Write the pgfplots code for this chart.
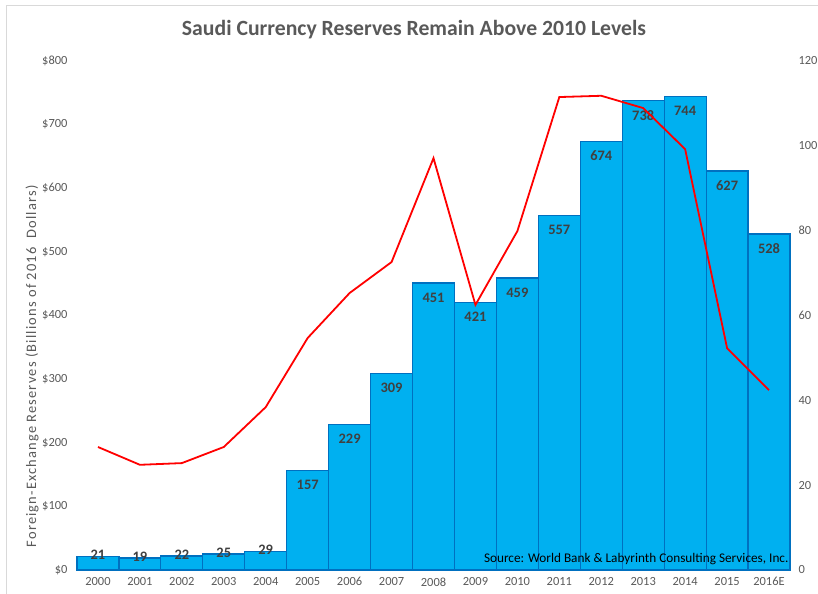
\documentclass[border=0pt]{standalone}
\usepackage{pgfplots}
\pgfplotsset{compat=1.18}
\usepackage{fontspec}
\setmainfont{Carlito}
\newfontfamily\widefont[LetterSpace=8]{Carlito}

\definecolor{barfill}{HTML}{00B0F0}
\definecolor{baredge}{HTML}{0070C0}
\definecolor{txtgray}{HTML}{595959}
\definecolor{lblgray}{HTML}{404040}
\definecolor{frame}{HTML}{D9D9D9}

% reserves, billions of 2016 dollars
\pgfplotstableread{
x y
0 21
1 19
2 22
3 25
4 29
}\smallbars
\pgfplotstableread{
x y
5 157
6 229
7 309
8 451
9 421
10 459
11 557
12 674
13 738
14 744
15 627
16 528
}\bigbars
% red line, right axis
\pgfplotstableread{
x y
0 29.0
1 24.8
2 25.2
3 29.0
4 38.4
5 54.7
6 65.3
7 72.6
8 97.1
9 62.5
10 79.9
11 111.5
12 111.8
13 108.9
14 99.2
15 52.3
16 42.4
}\lineseries

\begin{document}
\begin{tikzpicture}[x=1bp,y=1bp]
\useasboundingbox (-77bp,-24bp) rectangle (741bp,570bp);
\draw[frame,line width=0.8bp] (-71bp,-24bp) -- (-71bp,565bp) -- (741bp,565bp);

\begin{axis}[
  at={(0,0)}, anchor=south west,
  scale only axis, width=713bp, height=509bp,
  xmin=-0.5, xmax=16.5, ymin=0, ymax=800,
  ybar, bar width=1, bar shift=0pt,
  axis y line*=left, axis x line*=bottom,
  y axis line style={draw=none},
  x axis line style={frame, line width=0.8bp},
  major tick length=0pt,
  xtick={0,...,16},
  xticklabels={2000,2001,2002,2003,2004,2005,2006,2007,2008,2009,2010,2011,2012,2013,2014,2015,2016E},
  ytick={0,100,...,800},
  yticklabels={\$0,\$100,\$200,\$300,\$400,\$500,\$600,\$700,\$800},
  tick label style={font=\fontsize{12.5}{14}\selectfont, text=txtgray},
  xticklabel style={yshift=-4bp},
  yticklabel style={xshift=-6bp},
  ylabel={Foreign-Exchange Reserves (Billions of 2016\ \ Dollars)},
  ylabel style={font=\widefont\fontsize{14.5}{16}\selectfont, text=txtgray,
    at={(axis description cs:-0.0631,0.40)}, anchor=center},
  /pgf/number format/assume math mode=true,
  nodes near coords,
  every node near coord/.append style={font=\bfseries\fontsize{14.5}{16}\selectfont, text=lblgray},
  clip=false,
]
\addplot[fill=barfill, draw=baredge, line width=1.2bp,
  every node near coord/.append style={anchor=center, yshift=1.5bp}]
  table[x=x,y=y] {\smallbars};
\addplot[fill=barfill, draw=baredge, line width=1.2bp,
  every node near coord/.append style={anchor=north, yshift=-6bp}]
  table[x=x,y=y] {\bigbars};
\node[anchor=base east, font=\fontsize{13.3}{15}\selectfont, text=black]
  at ([xshift=2bp,yshift=8bp]rel axis cs:1,0) {Source: World Bank \& Labyrinth Consulting Services, Inc.};
\end{axis}

\begin{axis}[
  at={(0,0)}, anchor=south west,
  scale only axis, width=713bp, height=509bp,
  xmin=-0.5, xmax=16.5, ymin=0, ymax=120,
  axis y line*=right, hide x axis,
  y axis line style={draw=none},
  major tick length=0pt,
  ytick={0,20,...,120},
  yticklabels={0,20,40,60,80,100,120},
  tick label style={font=\fontsize{12.5}{14}\selectfont, text=txtgray},
  yticklabel style={xshift=5bp},
  clip=false,
]
\addplot[red, line width=1.8bp, mark=none] table[x=x,y=y] {\lineseries};
\end{axis}

\node[font=\bfseries\fontsize{21.8}{26}\selectfont, text=txtgray] at (337bp,540bp)
  {Saudi Currency Reserves Remain Above 2010 Levels};
\end{tikzpicture}
\end{document}
